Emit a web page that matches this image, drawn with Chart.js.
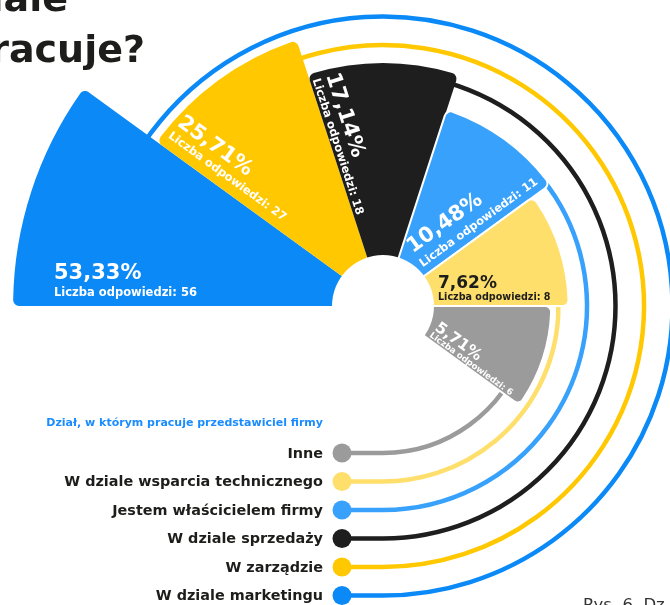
<!DOCTYPE html>
<html lang="pl">
<head>
<meta charset="utf-8">
<title>Dział, w którym pracuje przedstawiciel firmy</title>
<script src="https://cdn.jsdelivr.net/npm/chart.js"></script>
<style>
  html, body { margin: 0; padding: 0; background: #fff; overflow: hidden; }
  body { width: 670px; height: 605px; position: relative; }
  #wrap { position: absolute; left: -47px; top: -124px; width: 860px; height: 860px; }
  .head { position: absolute; left: -400px; text-align: right; white-space: nowrap; z-index: 2;
          font: bold 38px 'DejaVu Sans', sans-serif; line-height: 51px; color: #1d1d1b; }
  .caption { position: absolute; left: 583px; top: 597px; white-space: nowrap; z-index: 2;
             font: 16.5px 'DejaVu Sans', sans-serif; line-height: 1; color: #333; }
</style>
</head>
<body>
<div class="head" style="top:-27px;width:468px">dziale</div>
<div class="head" style="top:24px;width:545px">pracuje?</div>
<div class="caption">Rys. 6. Dz</div>
<div id="wrap"><canvas id="chart"></canvas></div>
<script>
const categories = ['W dziale marketingu', 'W zarządzie', 'W dziale sprzedaży',
  'Jestem właścicielem firmy', 'W dziale wsparcia technicznego', 'Inne'];
const shares = [53.33, 25.71, 17.14, 10.48, 7.62, 5.71];   // %
const answers = [56, 27, 18, 11, 8, 6];                     // liczba odpowiedzi
const colors = ['#0a89f7', '#ffc800', '#1e1e1e', '#38a1fb', '#ffdf6b', '#9b9b9b'];
const textColors = ['#fff', '#fff', '#fff', '#fff', '#1d1d1b', '#fff'];

const FONT = "'DejaVu Sans', sans-serif";
const HOLE = 51;          // white circle in the middle
const RING_FIRST = 147;   // innermost legend ring
const RING_STEP = 28.5;

// font sizes and baseline offsets (across the wedge edge) for the value labels
const labelLayout = [
  { pct: 21, cnt: 11.5, pctY: -27, cntY: -10 },
  { pct: 21, cnt: 11.5, pctY: -25, cntY: -10 },
  { pct: 21, cnt: 11.5, pctY: -17, cntY: -3 },
  { pct: 21, cnt: 11.5, pctY: -25, cntY: -8 },
  { pct: 17, cnt: 9.6, pctY: -18, cntY: -6 },
  { pct: 15.5, cnt: 8.6, pctY: -11, cntY: -2.5 }
];

// radial axis that grows like log(v) + v/23, so small shares still get visible wedges
const shape = v => Math.log(v) + v / 23;
class LogLinearRadialScale extends Chart.RadialLinearScale {
  getDistanceFromCenterForValue(value) {
    if (value === null || value === undefined || isNaN(value)) return NaN;
    const t = (shape(value) - shape(this.min)) / (shape(this.max) - shape(this.min));
    return (this.options.reverse ? 1 - t : t) * this.drawingArea;
  }
}
LogLinearRadialScale.id = 'radialLogLinear';
Chart.register(LogLinearRadialScale);

const fmt = v => v.toFixed(2).replace('.', ',') + '%';

const ringsPlugin = {
  id: 'rings',
  beforeDatasetsDraw(chart) {
    const { ctx } = chart;
    const r = chart.scales.r;
    const cx = r.xCenter, cy = r.yCenter;
    const arcs = chart.getDatasetMeta(0).data;
    ctx.save();
    ctx.lineWidth = 4.5;
    arcs.forEach((arc, i) => {
      const R = RING_FIRST + RING_STEP * (arcs.length - 1 - i);
      const mid = (arc.startAngle + arc.endAngle) / 2;
      ctx.strokeStyle = colors[i];
      ctx.beginPath();
      ctx.arc(cx, cy, R, mid, Math.PI * 2.5);
      ctx.lineTo(cx - 41, cy + R);
      ctx.stroke();
      ctx.fillStyle = colors[i];
      ctx.beginPath();
      ctx.arc(cx - 41, cy + R, 9.5, 0, Math.PI * 2);
      ctx.fill();
      ctx.fillStyle = '#1d1d1b';
      ctx.font = 'bold 14.4px ' + FONT;
      ctx.textAlign = 'right';
      ctx.textBaseline = 'middle';
      ctx.fillText(categories[i], cx - 60, cy + R + 1);
    });
    ctx.fillStyle = '#1a8cff';
    ctx.font = 'bold 11px ' + FONT;
    ctx.textAlign = 'right';
    ctx.fillText('Dział, w którym pracuje przedstawiciel firmy', cx - 60, cy + 117);
    ctx.restore();
  },
  afterDatasetsDraw(chart) {
    const { ctx } = chart;
    const r = chart.scales.r;
    const cx = r.xCenter, cy = r.yCenter;
    const arcs = chart.getDatasetMeta(0).data;
    ctx.save();
    ctx.fillStyle = '#fff';
    ctx.beginPath();
    ctx.arc(cx, cy, HOLE, 0, Math.PI * 2);
    ctx.fill();

    // value labels run along the lower edge of each wedge
    ctx.textAlign = 'left';
    ctx.textBaseline = 'alphabetic';
    arcs.forEach((arc, i) => {
      const lay = labelLayout[i];
      const left = i < 3;
      const rot = left ? arc.startAngle + Math.PI : arc.endAngle;
      const x0 = left ? -Math.min(arc.outerRadius - 6, 329) : 55;
      ctx.save();
      ctx.translate(cx, cy);
      ctx.rotate(rot);
      ctx.fillStyle = textColors[i];
      ctx.font = 'bold ' + lay.pct + 'px ' + FONT;
      ctx.fillText(fmt(shares[i]), x0, lay.pctY);
      ctx.font = 'bold ' + lay.cnt + 'px ' + FONT;
      ctx.fillText('Liczba odpowiedzi: ' + answers[i], x0, lay.cntY);
      ctx.restore();
    });
    ctx.restore();
  }
};

new Chart(document.getElementById('chart'), {
  type: 'polarArea',
  data: {
    labels: categories,
    datasets: [{
      data: shares,
      backgroundColor: colors,
      borderColor: '#fff',
      borderWidth: [0, 0, 0, 2, 2, 2],
      borderRadius: { outerStart: 6, outerEnd: 6, innerStart: 0, innerEnd: 0 },
      angle: 36
    }]
  },
  options: {
    responsive: true,
    maintainAspectRatio: false,
    animation: false,
    events: [],
    layout: { padding: 0 },
    plugins: { legend: { display: false }, tooltip: { enabled: false } },
    scales: {
      r: {
        type: 'radialLogLinear',
        min: 0.2,
        max: 75,
        beginAtZero: false,
        startAngle: -90,
        ticks: { display: false },
        grid: { display: false },
        angleLines: { display: false },
        pointLabels: { display: false }
      }
    }
  },
  plugins: [ringsPlugin]
});
</script>
</body>
</html>
